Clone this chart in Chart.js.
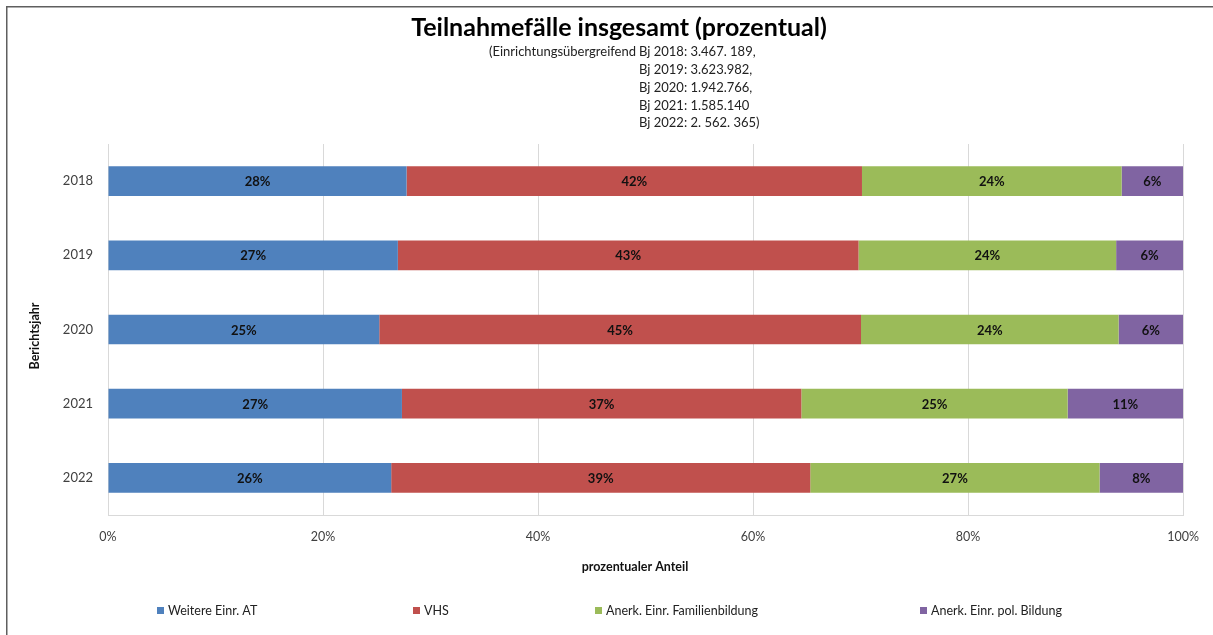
<!DOCTYPE html>
<html lang="de">
<head>
<meta charset="utf-8">
<title>Teilnahmefälle insgesamt (prozentual)</title>
<script src="https://cdn.jsdelivr.net/npm/chart.js@4/dist/chart.umd.min.js"></script>
<style>
    html, body { margin: 0; padding: 0; background: #fff; }
    #wrap { position: relative; width: 1213px; height: 635px; }
</style>
</head>
<body>
<div id="wrap"><canvas id="teilnahmeChart"></canvas></div>
<script>
// Chart data (percent shares)
const years = ['2018', '2019', '2020', '2021', '2022'];
const seriesNames = ['Weitere Einr. AT', 'VHS', 'Anerk. Einr. Familienbildung', 'Anerk. Einr. pol. Bildung'];
const weitereEinr = [27.77, 26.96, 25.23, 27.34, 26.34];
const vhs = [42.36, 42.85, 44.81, 37.15, 38.98];
const familienbildung = [24.15, 23.96, 23.96, 24.77, 26.91];
const polBildung = [5.72, 6.23, 6.00, 10.74, 7.77];
const xTicks = [0, 20, 40, 60, 80, 100];

const titleText = 'Teilnahmefälle insgesamt (prozentual)';
const subtitlePrefix = '(Einrichtungsübergreifend';
const subtitleLines = [
    'Bj 2018: 3.467. 189,',
    'Bj 2019: 3.623.982,',
    'Bj 2020: 1.942.766,',
    'Bj 2021: 1.585.140',
    'Bj 2022: 2. 562. 365)'
];
const xAxisTitle = 'prozentualer Anteil';
const yAxisTitle = 'Berichtsjahr';

const colors = ['#4F81BD', '#C0504D', '#9BBB59', '#8064A2'];
const FONT = 'Lato, "Open Sans", sans-serif';

// legend item x positions (Excel spreads them unevenly)
const legendX = [157, 413, 595, 920];

/**
 * Draws titles, axis titles, frame, legend and the value labels
 */
const decorPlugin = {
    id: 'decor',
    afterDatasetsDraw(chart) {
        const ctx = chart.ctx;
        ctx.save();
        ctx.textAlign = 'center';
        ctx.textBaseline = 'middle';
        ctx.fillStyle = '#111';
        ctx.font = 'bold 13px ' + FONT;
        chart.data.datasets.forEach((ds, i) => {
            const meta = chart.getDatasetMeta(i);
            meta.data.forEach((bar, j) => {
                const cx = (bar.x + bar.base) / 2;
                ctx.fillText(Math.round(ds.data[j]) + '%', cx, bar.y + 1);
            });
        });
        ctx.restore();
    },
    afterDraw(chart) {
        const ctx = chart.ctx;
        ctx.save();

        // outer frame (top and left only visible)
        ctx.strokeStyle = '#5f5f5f';
        ctx.lineWidth = 1.5;
        ctx.beginPath();
        ctx.moveTo(6.75, chart.height);
        ctx.lineTo(6.75, 6.75);
        ctx.lineTo(chart.width, 6.75);
        ctx.stroke();

        // title
        ctx.fillStyle = '#000';
        ctx.textAlign = 'center';
        ctx.textBaseline = 'middle';
        ctx.font = 'bold 25px ' + FONT;
        ctx.fillText(titleText, 619, 28);

        // subtitle block
        ctx.font = '13px ' + FONT;
        ctx.fillStyle = '#222';
        ctx.textAlign = 'right';
        ctx.fillText(subtitlePrefix, 636, 52);
        ctx.textAlign = 'left';
        subtitleLines.forEach((line, i) => {
            ctx.fillText(line, 639, 52 + i * 17.8);
        });

        // axis titles
        ctx.fillStyle = '#111';
        ctx.font = 'bold 12.5px ' + FONT;
        ctx.textAlign = 'center';
        ctx.fillText(xAxisTitle, 635, 567);
        ctx.save();
        ctx.translate(35, 336);
        ctx.rotate(-Math.PI / 2);
        ctx.fillText(yAxisTitle, 0, 0);
        ctx.restore();

        // legend
        ctx.font = '12.5px ' + FONT;
        ctx.textAlign = 'left';
        seriesNames.forEach((name, i) => {
            ctx.fillStyle = colors[i];
            ctx.fillRect(legendX[i], 607, 7, 7);
            ctx.fillStyle = '#222';
            ctx.fillText(name, legendX[i] + 11, 611);
        });

        ctx.restore();
    }
};

function initializeChart() {
    const ctx = document.getElementById('teilnahmeChart');
    const seriesData = [weitereEinr, vhs, familienbildung, polBildung];

    new Chart(ctx.getContext('2d'), {
        type: 'bar',
        data: {
            labels: years,
            datasets: seriesNames.map((name, i) => ({
                label: name,
                data: seriesData[i],
                backgroundColor: colors[i],
                borderWidth: 0,
                barPercentage: 0.4,
                categoryPercentage: 1
            }))
        },
        options: {
            indexAxis: 'y',
            responsive: true,
            maintainAspectRatio: false,
            animation: false,
            layout: {
                padding: { top: 144, left: 0, right: 27, bottom: 0 }
            },
            plugins: {
                legend: { display: false },
                title: { display: false },
                tooltip: { enabled: false }
            },
            scales: {
                x: {
                    stacked: true,
                    min: 0,
                    max: 100,
                    afterBuildTicks: function(scale) {
                        scale.ticks = xTicks.map(v => ({ value: v }));
                    },
                    afterFit: function(scale) {
                        scale.height = 120;
                    },
                    ticks: {
                        padding: 14,
                        color: '#404040',
                        font: { family: FONT, size: 12.5 },
                        maxRotation: 0,
                        callback: function(value) {
                            return value + '%';
                        }
                    },
                    grid: {
                        color: '#d9d9d9',
                        lineWidth: 1,
                        drawTicks: false
                    },
                    border: { display: true, color: '#d9d9d9' }
                },
                y: {
                    stacked: true,
                    afterFit: function(scale) {
                        scale.width = 108;
                    },
                    ticks: {
                        padding: 15,
                        color: '#404040',
                        font: { family: FONT, size: 13 }
                    },
                    grid: { display: false, drawTicks: false },
                    border: { display: false }
                }
            }
        },
        plugins: [decorPlugin]
    });
}

initializeChart();
</script>
</body>
</html>
